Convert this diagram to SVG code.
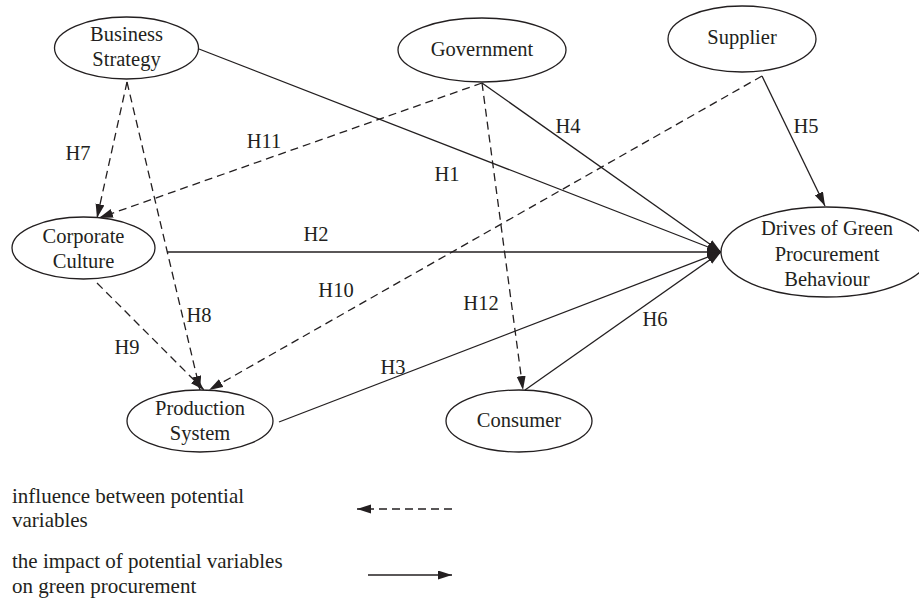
<svg xmlns="http://www.w3.org/2000/svg" width="919" height="599" viewBox="0 0 919 599">
<defs>
<marker id="ah" markerUnits="userSpaceOnUse" markerWidth="15" markerHeight="10" refX="14" refY="4.5" orient="auto">
<path d="M0,0 L14,4.5 L0,9 z" fill="#231f20"/>
</marker>
<style>
text{font-family:"Liberation Serif","Times New Roman",serif;font-size:20.5px;fill:#231f20}
.n ellipse{fill:#fff;stroke:#231f20;stroke-width:1.3}
.n text{text-anchor:middle}
.s{stroke:#231f20;stroke-width:1.3;fill:none;marker-end:url(#ah)}
.d{stroke:#231f20;stroke-width:1.3;fill:none;stroke-dasharray:8,5;marker-end:url(#ah)}
.lg{font-size:21px}
</style>
</defs>
<rect width="919" height="599" fill="#fff"/>
<g id="connectors">
<line class="s" x1="199" y1="49" x2="721" y2="252"/>
<line class="s" x1="167" y1="252" x2="721" y2="252"/>
<line class="s" x1="279" y1="422" x2="721" y2="252"/>
<line class="s" x1="482" y1="83" x2="721" y2="252"/>
<line class="s" x1="762" y1="76" x2="825" y2="206"/>
<line class="s" x1="525" y1="390" x2="721" y2="252"/>
<line class="d" x1="127" y1="82" x2="97" y2="218"/>
<line class="d" x1="127" y1="82" x2="200" y2="390"/>
<line class="d" x1="97" y1="283" x2="204" y2="390"/>
<line class="d" x1="762" y1="76" x2="209" y2="390"/>
<line class="d" x1="482" y1="83" x2="99" y2="218"/>
<line class="d" x1="482" y1="83" x2="523" y2="390"/>
</g>
<g id="labels">
<text x="78" y="160" text-anchor="middle">H7</text>
<text x="264" y="148" text-anchor="middle">H11</text>
<text x="447" y="181" text-anchor="middle">H1</text>
<text x="568" y="133" text-anchor="middle">H4</text>
<text x="806" y="133" text-anchor="middle">H5</text>
<text x="316" y="241" text-anchor="middle">H2</text>
<text x="336" y="297" text-anchor="middle">H10</text>
<text x="481" y="310" text-anchor="middle">H12</text>
<text x="655" y="326" text-anchor="middle">H6</text>
<text x="393" y="374" text-anchor="middle">H3</text>
<text x="199" y="322" text-anchor="middle">H8</text>
<text x="127" y="354" text-anchor="middle">H9</text>
</g>
<g id="business-strategy" class="n">
<ellipse cx="126.5" cy="48" rx="72" ry="31"/>
<text x="126.5" y="41">Business</text>
<text x="126.5" y="66">Strategy</text>
</g>
<g id="government" class="n">
<ellipse cx="482" cy="50" rx="84" ry="32"/>
<text x="482" y="56">Government</text>
</g>
<g id="supplier" class="n">
<ellipse cx="742" cy="39" rx="74" ry="33"/>
<text x="742" y="44">Supplier</text>
</g>
<g id="corporate-culture" class="n">
<ellipse cx="83.5" cy="248" rx="71.5" ry="31"/>
<text x="83.5" y="243">Corporate</text>
<text x="83.5" y="268">Culture</text>
</g>
<g id="drives" class="n">
<ellipse cx="826" cy="252" rx="105" ry="45"/>
<text x="827" y="235">Drives of Green</text>
<text x="827" y="261">Procurement</text>
<text x="827" y="286">Behaviour</text>
</g>
<g id="production-system" class="n">
<ellipse cx="200" cy="421" rx="73" ry="31"/>
<text x="200" y="415">Production</text>
<text x="200" y="440">System</text>
</g>
<g id="consumer" class="n">
<ellipse cx="519" cy="421" rx="73" ry="31"/>
<text x="519" y="427">Consumer</text>
</g>
<g id="legend">
<text class="lg" x="12" y="503">influence between potential</text>
<text class="lg" x="12" y="527">variables</text>
<text class="lg" x="12" y="568">the impact of potential variables</text>
<text class="lg" x="12" y="593">on green procurement</text>
<line class="d" x1="452" y1="509" x2="357" y2="509"/>
<line class="s" x1="368" y1="575" x2="452" y2="575"/>
</g>
</svg>
